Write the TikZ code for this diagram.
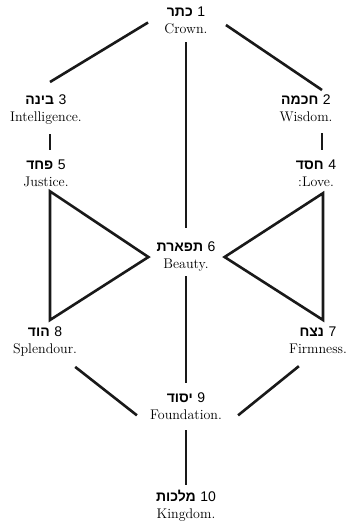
\documentclass[tikz,border=0pt]{standalone}
\usepackage{fontspec}
\newfontfamily\hebfont[Script=Hebrew]{Liberation Sans}
\newfontfamily\numfont{Liberation Sans}
\TeXXeTstate=1
\usetikzlibrary{positioning, calc}
\newcommand{\sefline}[3]{{\hebfont\bfseries\beginR #1\endR}\ {\numfont #2}\\#3}

\begin{document}
\begin{tikzpicture}[x=1pt, y=-1pt,
  sefira/.style={anchor=north, align=center, inner sep=0pt,
                 font=\fontsize{14}{17}\selectfont},
  conn/.style={draw=black!90, line width=2.6pt},
  triad/.style={conn, line join=miter}]

  \useasboundingbox (0,0) rectangle (350,525);

  % ---- Sefirot ----
  \node[sefira] (keter)   at (186,  7) {\sefline{כתר}{1}{Crown.}};
  \node[sefira] (binah)   at ( 46, 95) {\sefline{בינה}{3}{Intelligence.}};
  \node[sefira] (chokmah) at (306, 95) {\sefline{חכמה}{2}{Wisdom.}};
  \node[sefira] (pachad)  at ( 46,160) {\sefline{פחד}{5}{Justice.}};
  \node[sefira] (chesed)  at (316,160) {\sefline{חסד}{4}{:Love.}};
  \node[sefira] (tiferet) at (186,242) {\sefline{תפארת}{6}{Beauty.}};
  \node[sefira] (hod)     at ( 45,327) {\sefline{הוד}{8}{Splendour.}};
  \node[sefira] (netzach) at (318,327) {\sefline{נצח}{7}{Firmness.}};
  \node[sefira] (yesod)   at (186,393) {\sefline{יסוד}{9}{Foundation.}};
  \node[sefira] (malkuth) at (186,490) {\sefline{מלכות}{10}{Kingdom.}};

  % ---- Paths ----
  % from the crown
  \draw[conn, shorten <=19pt] ([yshift=8pt]keter.west) -- ([xshift=4pt,yshift=13pt]binah.north);
  \draw[conn, shorten <=22pt] ([yshift=8pt]keter.east) -- ([xshift=16pt,yshift=5pt]chokmah.north);
  \draw[conn, shorten <=8pt, shorten >=14pt] (keter.south) -- (tiferet.north);

  % pillars
  \draw[conn, shorten <=9pt, shorten >=10pt] ([xshift=4pt]binah.south) -- ([xshift=4pt]pachad.north);
  \draw[conn, shorten <=11pt, shorten >=10pt] ([xshift=16pt]chokmah.south) -- ([xshift=6pt]chesed.north);

  % triangles round beauty
  \draw[triad] ([xshift=4pt,yshift=-4pt]pachad.south) -- ([xshift=-8pt]tiferet.west)
    -- ([xshift=5pt,yshift=7pt]hod.north) -- cycle;
  \draw[triad] ([xshift=7pt,yshift=-6pt]chesed.south) -- ([xshift=9pt]tiferet.east)
    -- ([xshift=5pt,yshift=7pt]netzach.north) -- cycle;

  % down to the foundation
  \draw[conn, shorten <=4pt, shorten >=10pt] (tiferet.south) -- (yesod.north);
  \draw[conn] ([xshift=-2pt,yshift=-10pt]hod.south east) -- ([xshift=-13pt,yshift=5pt]yesod.south west);
  \draw[conn] ([xshift=10pt,yshift=-12pt]netzach.south west) -- ([xshift=16pt,yshift=5pt]yesod.south east);
  \draw[conn, shorten <=10pt, shorten >=5pt] (yesod.south) -- (malkuth.north);

\end{tikzpicture}
\end{document}
